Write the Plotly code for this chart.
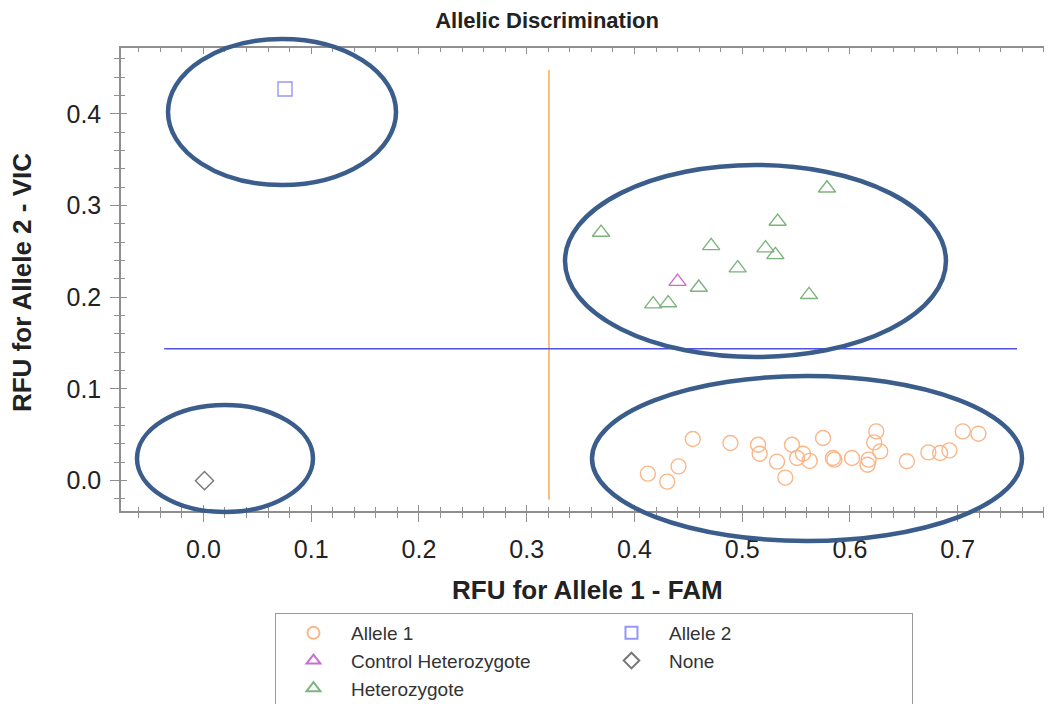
import plotly.graph_objects as go

# ---------------- data ----------------
allele1_x = [0.4125, 0.4304, 0.4409, 0.4541, 0.4891, 0.5147, 0.5162, 0.5323, 0.5400,
             0.5462, 0.5509, 0.5564, 0.5626, 0.5750, 0.5842, 0.5855, 0.6019, 0.6173,
             0.6163, 0.6244, 0.6225, 0.6281, 0.6528, 0.6728, 0.6837, 0.6923, 0.7047, 0.7192]
allele1_y = [0.0076, -0.0011, 0.0156, 0.0454, 0.0410, 0.0392, 0.0294, 0.0207, 0.0033,
             0.0392, 0.0247, 0.0294, 0.0215, 0.0465, 0.0247, 0.0229, 0.0247, 0.0229,
             0.0174, 0.0537, 0.0417, 0.0319, 0.0211, 0.0308, 0.0302, 0.0330, 0.0537, 0.0512]

het_x = [0.369, 0.5787, 0.5329, 0.4712, 0.5216, 0.5308, 0.4958, 0.4597, 0.4174, 0.4313, 0.5620]
het_y = [0.2705, 0.3188, 0.2825, 0.2560, 0.2535, 0.2462, 0.2317, 0.2106, 0.1925, 0.1936, 0.2026]

ctrl_het_x = [0.440]
ctrl_het_y = [0.217]

allele2_x = [0.0757]
allele2_y = [0.427]

none_x = [0.001]
none_y = [0.0]

# threshold lines
fam_threshold = 0.3207
fam_line_y = [-0.0207, 0.4477]
vic_threshold = 0.1438
vic_line_x = [-0.0364, 0.755]

# axes
x_range = [-0.0765, 0.7875]
y_range = [-0.0331, 0.4717]
x_ticks = [0.0, 0.1, 0.2, 0.3, 0.4, 0.5, 0.6, 0.7]
x_tick_labels = ["0.0", "0.1", "0.2", "0.3", "0.4", "0.5", "0.6", "0.7"]
y_ticks = [0.0, 0.1, 0.2, 0.3, 0.4]
y_tick_labels = ["0.0", "0.1", "0.2", "0.3", "0.4"]

# highlight ellipses (paper coordinates: x0, y0, x1, y1)
highlight_ellipses = [
    (0.0505, 0.7041, 0.2954, 1.0194),
    (0.4769, 0.3326, 0.8861, 0.7473),
    (0.0172, -0.0022, 0.2062, 0.2289),
    (0.5059, -0.0648, 0.9678, 0.2916),
]

# ---------------- figure ----------------
FONT = "Liberation Sans, Arial, sans-serif"
AX_COL = "#8f8f8f"

fig = go.Figure()

# order chosen so the horizontal legend reads column-wise like the reference
fig.add_trace(go.Scatter(x=allele1_x, y=allele1_y, mode="markers", name="Allele 1",
                         marker=dict(symbol="circle-open", size=15, color="rgb(250,182,135)",
                                     line=dict(width=1.4))))
fig.add_trace(go.Scatter(x=allele2_x, y=allele2_y, mode="markers", name="Allele 2",
                         marker=dict(symbol="square-open", size=14, color="rgb(150,150,250)",
                                     line=dict(width=1.4))))
fig.add_trace(go.Scatter(x=ctrl_het_x, y=ctrl_het_y, mode="markers", name="Control Heterozygote",
                         marker=dict(symbol="triangle-up-open", size=15, color="rgb(200,110,210)",
                                     line=dict(width=1.4))))
fig.add_trace(go.Scatter(x=none_x, y=none_y, mode="markers", name="None",
                         marker=dict(symbol="diamond-open", size=14, color="rgb(120,120,120)",
                                     line=dict(width=1.4))))
fig.add_trace(go.Scatter(x=het_x, y=het_y, mode="markers", name="Heterozygote",
                         marker=dict(symbol="triangle-up-open", size=15, color="rgb(125,180,125)",
                                     line=dict(width=1.4))))

# dummy trace for the overlay axes (inside ticks)
fig.add_trace(go.Scatter(x=[None], y=[None], xaxis="x2", yaxis="y2", showlegend=False,
                         hoverinfo="skip"))

# threshold lines
fig.add_shape(type="line", xref="x", yref="y", x0=fam_threshold, x1=fam_threshold,
              y0=fam_line_y[0], y1=fam_line_y[1], line=dict(color="rgb(250,170,80)", width=1.5))
fig.add_shape(type="line", xref="x", yref="y", x0=vic_line_x[0], x1=vic_line_x[1],
              y0=vic_threshold, y1=vic_threshold, line=dict(color="rgb(80,80,235)", width=1.5))

for (ex0, ey0, ex1, ey1) in highlight_ellipses:
    fig.add_shape(type="circle", xref="paper", yref="paper", x0=ex0, y0=ey0, x1=ex1, y1=ey1,
                  line=dict(color="rgb(58,93,140)", width=4.5), layer="above")

common_axis = dict(showgrid=False, zeroline=False, showline=True, linecolor=AX_COL,
                   linewidth=1.5, tickcolor=AX_COL, tickwidth=1.2, automargin=False,
                   tickfont=dict(family=FONT, size=25, color="#222222"))

# the page body adds an 8px offset, so margins are shifted by -8px
fig.update_layout(
    width=1052, height=704,
    margin=dict(l=113, r=8, t=40, b=201, autoexpand=False),
    paper_bgcolor="white", plot_bgcolor="white",
    font=dict(family=FONT, color="#222222"),
    title=dict(text="<b>Allelic Discrimination</b>", x=0.4576, xref="paper",
               y=1 - 12 / 704, yref="container", yanchor="middle", xanchor="center",
               font=dict(family=FONT, size=22, color="#222222")),
    xaxis=dict(range=x_range, tickvals=x_ticks, ticktext=x_tick_labels, ticks="outside",
               ticklen=9, mirror=True, ticklabelstandoff=6,
               minor=dict(dtick=0.02, tick0=0, ticks="outside", ticklen=5, tickcolor=AX_COL),
               **common_axis),
    yaxis=dict(range=y_range, tickvals=y_ticks, ticktext=y_tick_labels, ticks="outside",
               ticklen=9, mirror=True, ticklabelstandoff=4,
               minor=dict(dtick=0.02, tick0=0, ticks="outside", ticklen=5, tickcolor=AX_COL),
               **common_axis),
    xaxis2=dict(range=x_range, overlaying="x", anchor="y2", tickvals=x_ticks, ticks="inside",
                ticklen=6, mirror="ticks", showticklabels=False,
                minor=dict(dtick=0.02, tick0=0, ticks="inside", ticklen=4, tickcolor=AX_COL),
                **common_axis),
    yaxis2=dict(range=y_range, overlaying="y", anchor="x2", tickvals=y_ticks, ticks="inside",
                ticklen=6, mirror="ticks", showticklabels=False,
                minor=dict(dtick=0.02, tick0=0, ticks="inside", ticklen=4, tickcolor=AX_COL),
                **common_axis),
    legend=dict(orientation="h", x=0.1654, xanchor="left", y=-0.2203, yanchor="top",
                bordercolor="#9a9a9a", borderwidth=1, bgcolor="white",
                entrywidth=238, entrywidthmode="pixels", traceorder="normal",
                itemwidth=65,
                font=dict(family=FONT, size=19, color="#333333"), itemsizing="constant"),
    showlegend=True,
    annotations=[
        dict(text="<b>RFU for Allele 1 - FAM</b>", xref="paper", yref="paper",
             x=0.5016, y=-0.1706, xanchor="center", yanchor="middle", showarrow=False,
             font=dict(family=FONT, size=26, color="#222222")),
        dict(text="<b>RFU for Allele 2 - VIC</b>", xref="paper", yref="paper",
             x=-0.1063, y=0.4924, xanchor="center", yanchor="middle", showarrow=False,
             textangle=-90, font=dict(family=FONT, size=26, color="#222222")),
    ],
)

fig.write_html("out.html")
